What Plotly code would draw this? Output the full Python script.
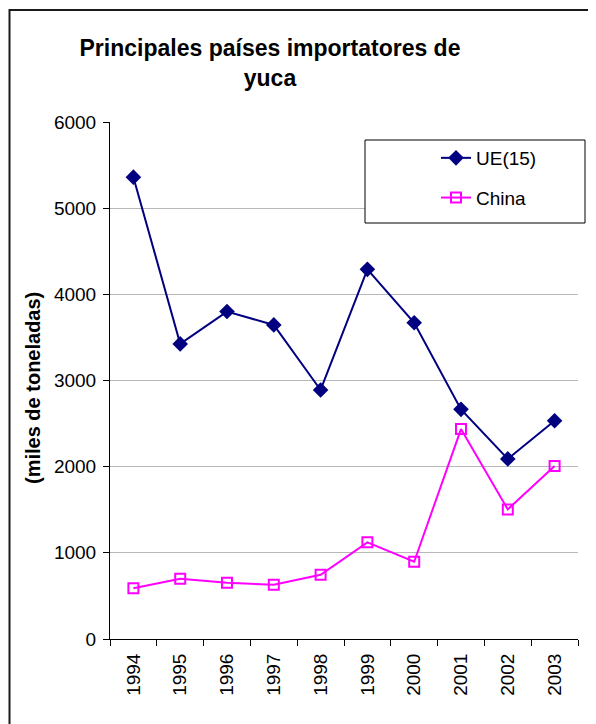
"""Principales países importadores de yuca - line chart."""

import plotly.graph_objects as go

YEARS = ["1994", "1995", "1996", "1997", "1998", "1999", "2000", "2001", "2002", "2003"]
UE15 = [5360, 3425, 3800, 3645, 2890, 4290, 3670, 2665, 2090, 2533]
CHINA = [588, 700, 653, 630, 746, 1122, 897, 2436, 1504, 2007]

FONT = "Liberation Sans, Arial, sans-serif"

# the page body has an 8px margin, so the figure is 8px smaller and
# every target position (taken in window pixels) is shifted by 8
OFF = 8
W, H = 596 - OFF, 724 - OFF
# plot area in window pixels: x 110..578, y 122..639
L, R, T, B = 110 - OFF, 18, 122 - OFF, 85
PW, PH = W - L - R, H - T - B


def px_x(x):
    return (x - OFF - L) / PW


def px_y(y):
    return (H - B - (y - OFF)) / PH


fig = go.Figure()

fig.add_trace(go.Scatter(
    x=YEARS, y=UE15, name="UE(15)", mode="lines+markers",
    line=dict(color="#000080", width=2),
    marker=dict(symbol="diamond", size=12, color="#000080"),
    legendgroup="a",
))
fig.add_trace(go.Scatter(
    x=YEARS, y=CHINA, name="China", mode="lines+markers",
    line=dict(color="#FF00FF", width=2),
    marker=dict(symbol="square-open", size=10, color="#FF00FF",
                line=dict(width=2, color="#FF00FF")),
    legendgroup="b",
))

# outer frame of the chart
fig.add_shape(type="rect", xref="paper", yref="paper",
              x0=px_x(9.5), x1=px_x(640), y0=px_y(760), y1=px_y(10),
              line=dict(color="#1a1a1a", width=2), fillcolor="rgba(0,0,0,0)",
              layer="above")
# legend box
fig.add_shape(type="rect", xref="paper", yref="paper",
              x0=px_x(365), x1=px_x(585), y0=px_y(223), y1=px_y(140),
              line=dict(color="#000000", width=1), fillcolor="white",
              layer="above")

fig.add_annotation(
    text="<b>(miles de toneladas)</b>", textangle=-90,
    xref="paper", yref="paper", x=px_x(33), y=px_y(388),
    xanchor="center", yanchor="middle",
    showarrow=False, font=dict(family=FONT, size=20, color="black"),
)

fig.update_layout(
    width=W, height=H,
    margin=dict(l=L, r=R, t=T, b=B),
    paper_bgcolor="white", plot_bgcolor="white",
    font=dict(family=FONT, size=19, color="black"),
    title=dict(
        text="<b>Principales países importatores de<br>yuca</b>",
        x=(270 - OFF) / W, xanchor="center", y=1 - (56 - OFF) / H,
        yanchor="middle",
        font=dict(family=FONT, size=23, color="black"),
    ),
    xaxis=dict(
        type="category", range=[-0.5, 9.5], tickangle=-90,
        ticks="outside", ticklen=6, tickcolor="black", tickson="boundaries",
        ticklabelstandoff=6,
        showline=True, linecolor="black", linewidth=1, showgrid=False,
    ),
    yaxis=dict(
        range=[0, 6000], dtick=1000, ticks="outside", ticklen=6,
        tickcolor="black", ticklabelstandoff=3,
        showline=True, linecolor="black", linewidth=1,
        showgrid=True, gridcolor="#b8b8b8", gridwidth=1, zeroline=False,
    ),
    legend=dict(
        x=px_x(436), y=px_y(139), xanchor="left", yanchor="top",
        bgcolor="rgba(0,0,0,0)", borderwidth=0, tracegroupgap=12,
        font=dict(family=FONT, size=19, color="black"),
    ),
    showlegend=True,
)

fig.write_html("out.html")
